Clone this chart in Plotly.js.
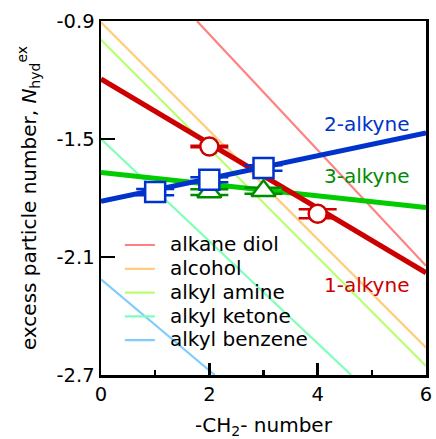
<!DOCTYPE html>
<html>
<head>
<meta charset="utf-8">
<script src="https://cdn.plot.ly/plotly-3.0.1.min.js"></script>
<style>html,body{margin:0;padding:0;background:#fff;}</style>
</head>
<body>
<div id="chart" style="width:436px;height:439px;"></div>
<script>
// ---- data ----
const refNames = ['alkane diol', 'alcohol', 'alkyl amine', 'alkyl ketone', 'alkyl benzene'];
const diolX = [1.77, 6];      const diolY = [-0.9, -2.145];
const alcoholX = [0, 6];      const alcoholY = [-0.907, -2.561];
const amineX = [0, 6];        const amineY = [-0.995, -2.654];
const ketoneX = [0, 4.62];    const ketoneY = [-1.50, -2.7];
const benzeneX = [0, 2.10];   const benzeneY = [-2.213, -2.7];

const fitX = [0, 6];
const fit1Y = [-1.195, -2.18];   // 1-alkyne
const fit2Y = [-1.817, -1.469];  // 2-alkyne
const fit3Y = [-1.670, -1.848];  // 3-alkyne

const alk1X = [2, 4];     const alk1Y = [-1.538, -1.880];        const alk1Err = [0.004, 0.023];
const alk2X = [1, 2, 3];  const alk2Y = [-1.770, -1.707, -1.647]; const alk2Err = [0.016, 0.013, 0.014];
const alk3X = [2, 3];     const alk3Y = [-1.770, -1.763];        const alk3Err = [0.015, 0.015];

const seriesLabels = ['1-alkyne', '2-alkyne', '3-alkyne'];
const labelX = [5.72, 5.72, 5.72];
const labelY = [-2.243, -1.422, -1.686];

const xTickVals = [0, 2, 4, 6];
const xTickText = ['0', '2', '4', '6'];
const xMinorVals = [1, 3, 5];
const yTickVals = [-0.9, -1.5, -2.1, -2.7];
const yTickText = ['-0.9', '-1.5', '-2.1', '-2.7'];

// ---- styles ----
const FONT = 'DejaVu Sans, Arial, sans-serif';
const refColors = ['#ff8080', '#ffcc80', '#b8ff70', '#80ffb8', '#80ccff'];
const RED = '#cc0000', BLUE = '#0033cc', GREEN = '#00cc00', DGREEN = '#008c00';

const refX = [diolX, alcoholX, amineX, ketoneX, benzeneX];
const refY = [diolY, alcoholY, amineY, ketoneY, benzeneY];

const traces = [];
refNames.forEach((n, i) => {
  traces.push({
    x: refX[i], y: refY[i], mode: 'lines', type: 'scatter',
    name: '\u00a0\u00a0<span style="font-size:20px">' + n + '</span>',
    line: {color: refColors[i], width: 2.2},
    hoverinfo: 'skip'
  });
});
traces.push({x: fitX, y: fit3Y, mode: 'lines', line: {color: GREEN, width: 5}, showlegend: false});
traces.push({x: fitX, y: fit1Y, mode: 'lines', line: {color: RED, width: 5}, showlegend: false});
traces.push({x: fitX, y: fit2Y, mode: 'lines', line: {color: BLUE, width: 5}, showlegend: false});

traces.push({x: alk3X, y: alk3Y, mode: 'markers', showlegend: false,
  marker: {symbol: 'triangle-up', size: 21, color: '#fff', line: {color: DGREEN, width: 2.5}},
  error_y: {type: 'data', array: alk3Err, visible: true, width: 19, thickness: 2.5, color: DGREEN}});
traces.push({x: alk1X, y: alk1Y, mode: 'markers', showlegend: false,
  marker: {symbol: 'circle', size: 18, color: '#fff', line: {color: RED, width: 2.5}},
  error_y: {type: 'data', array: alk1Err, visible: true, width: 19, thickness: 2.5, color: RED}});
traces.push({x: alk2X, y: alk2Y, mode: 'markers', showlegend: false,
  marker: {symbol: 'square', size: 20, color: '#fff', line: {color: BLUE, width: 2.5}},
  error_y: {type: 'data', array: alk2Err, visible: true, width: 19, thickness: 2.5, color: BLUE}});

const labelColors = [RED, BLUE, DGREEN];
const annotations = seriesLabels.map((t, i) => ({
  x: labelX[i], y: labelY[i], xref: 'x', yref: 'y', text: t, showarrow: false,
  xanchor: 'right', yanchor: 'middle', font: {family: FONT, size: 20, color: labelColors[i]}
}));

const layout = {
  width: 436, height: 439,
  margin: {l: 101, r: 10, t: 21, b: 64, pad: 0},
  paper_bgcolor: '#fff', plot_bgcolor: '#fff',
  font: {family: FONT, color: '#000'},
  showlegend: true,
  legend: {x: 0.058, y: 0.415, xanchor: 'left', yanchor: 'top', bgcolor: 'rgba(0,0,0,0)',
           borderwidth: 0, font: {family: FONT, size: 16, color: '#000'}, tracegroupgap: 0},
  xaxis: {
    range: [0, 6], tickmode: 'array', tickvals: xTickVals, ticktext: xTickText,
    ticks: 'inside', ticklen: 12, tickwidth: 2.5, tickcolor: '#000',
    minor: {tickmode: 'array', tickvals: xMinorVals, ticks: 'inside', ticklen: 5, tickwidth: 2.5, tickcolor: '#000', showgrid: false},
    showline: true, mirror: true, linewidth: 2.5, linecolor: '#000',
    showgrid: false, zeroline: false,
    tickfont: {family: FONT, size: 19.5, color: '#000'},
    title: {text: '-CH<sub>2</sub>- number', font: {family: FONT, size: 20, color: '#000'}, standoff: 24}
  },
  yaxis: {
    range: [-2.7, -0.9], tickmode: 'array', tickvals: yTickVals, ticktext: yTickText,
    ticks: 'inside', ticklen: 14, tickwidth: 2.5, tickcolor: '#000',
    showline: true, mirror: true, linewidth: 2.5, linecolor: '#000',
    showgrid: false, zeroline: false,
    tickfont: {family: FONT, size: 19.5, color: '#000'},
    title: {text: 'excess particle number, <i>N</i><sub>hyd</sub><sup>ex</sup>', font: {family: FONT, size: 20, color: '#000'}, standoff: 15}
  },
  annotations: annotations
};

Plotly.newPlot('chart', traces, layout, {staticPlot: true, displayModeBar: false});
</script>
</body>
</html>
